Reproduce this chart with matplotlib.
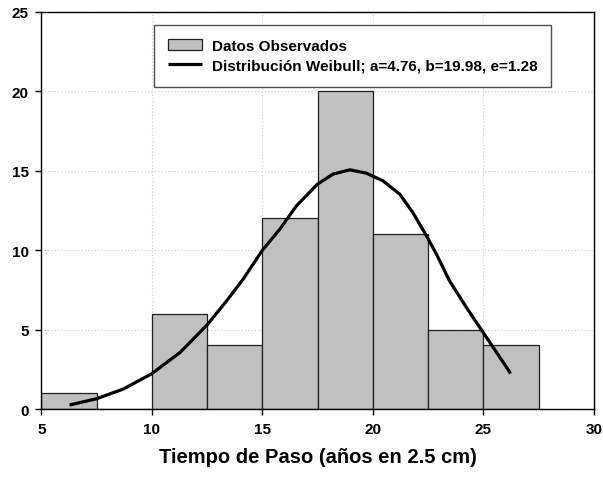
import matplotlib
matplotlib.use("Agg")
import matplotlib.pyplot as plt

plt.rcParams['font.family'] = ['Liberation Sans', 'DejaVu Sans']

bin_left = [5, 7.5, 10, 12.5, 15, 17.5, 20, 22.5, 25]
counts = [1, 0, 6, 4, 12, 20, 11, 5, 4]
bin_width = 2.5

curve_x = [6.27, 7.5, 8.71, 9.99, 11.27, 12.5, 13.38, 14.13, 15.0, 15.79, 16.54,
           17.49, 18.19, 18.95, 19.70, 20.45, 21.21, 21.81, 22.42, 22.87, 23.47,
           24.2, 24.97, 26.23]
curve_y = [0.25, 0.65, 1.26, 2.22, 3.56, 5.3, 6.81, 8.18, 10.0, 11.32, 12.79,
           14.15, 14.78, 15.05, 14.84, 14.36, 13.52, 12.35, 10.9, 9.75, 8.05,
           6.45, 4.85, 2.24]

legend_labels = ["Datos Observados",
                 "Distribución Weibull; a=4.76, b=19.98, e=1.28"]

fig = plt.figure(figsize=(6.03, 4.81), dpi=100)
ax = fig.add_axes([0.0688, 0.1476, 0.9162, 0.826])

bars = ax.bar(bin_left, counts, width=bin_width, align='edge', color='#C0C0C0',
              edgecolor='#202020', linewidth=0.9, zorder=2)
line, = ax.plot(curve_x, curve_y, color='black', linewidth=2.3, zorder=3,
                solid_capstyle='butt', solid_joinstyle='round')

ax.set_xlim(5, 30)
ax.set_ylim(0, 25)
ax.set_xticks([5, 10, 15, 20, 25, 30])
ax.set_yticks([0, 5, 10, 15, 20, 25])
ax.grid(True, linestyle=(0, (1, 2)), color='#C8C8C8', linewidth=0.8, zorder=0)
ax.set_axisbelow(True)

for lab in ax.get_xticklabels() + ax.get_yticklabels():
    lab.set_fontweight('bold')
    lab.set_fontsize(11)
ax.tick_params(axis='both', direction='out', length=4, width=1, color='black')
ax.tick_params(axis='x', pad=5)
ax.tick_params(axis='y', pad=5)
for s in ax.spines.values():
    s.set_linewidth(1.0)
    s.set_color('black')

ax.set_xlabel("Tiempo de Paso (años en 2.5 cm)", fontsize=14.5, fontweight='bold',
              labelpad=8)

leg = ax.legend([bars, line], legend_labels, loc='upper left',
                bbox_to_anchor=(0.204, 0.966),
                frameon=True, fancybox=False, framealpha=1,
                prop={'weight': 'bold', 'size': 11},
                handlelength=2.22, handleheight=0.72, handletextpad=0.65,
                borderpad=0.9, labelspacing=0.38, borderaxespad=0)
leg.get_frame().set_edgecolor('#505050')
leg.get_frame().set_linewidth(1.0)

fig.savefig("out.png", dpi=100)
